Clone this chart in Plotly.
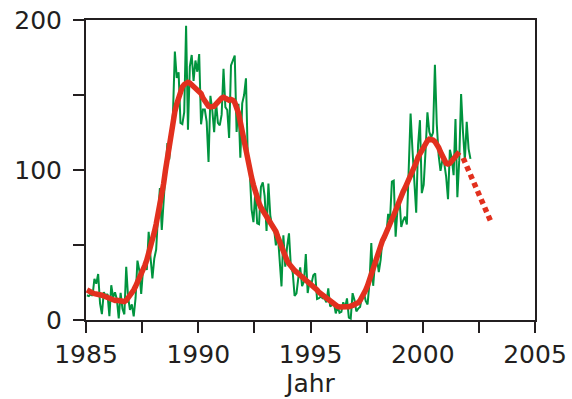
import plotly.graph_objects as go

# ---- data -------------------------------------------------------------
start_year = 1985  # first month: January 1985

# monthly sunspot numbers, Jan 1985 .. Feb 2002
ssn_monthly = [
    16.5, 15.9, 17.2, 16.2, 27.5, 24.2, 30.7, 11.1, 3.9, 18.6, 16.2, 17.3,      # 1985
    2.5, 23.2, 15.1, 18.5, 13.7, 1.1, 18.1, 7.4, 3.8, 35.4, 15.2, 6.8,          # 1986
    10.4, 2.4, 14.7, 39.6, 33.0, 17.4, 33.9, 38.8, 33.3, 58.8, 41.7, 27.8,      # 1987
    41.0, 47.0, 70.0, 88.0, 60.0, 82.0, 100.0, 118.0, 107.0, 125.0, 138.0, 179.0,  # 1988
    161.3, 165.1, 131.4, 130.6, 138.5, 196.2, 126.9, 168.9, 176.7, 159.4, 173.0, 165.5,  # 1989
    177.3, 130.5, 140.3, 140.3, 132.2, 105.4, 149.4, 140.0, 125.2, 145.5, 131.4, 129.7,  # 1990
    136.9, 167.5, 141.9, 140.0, 121.3, 169.7, 173.7, 176.3, 125.3, 144.1, 108.2, 144.4,  # 1991
    150.0, 161.1, 106.7, 99.8, 73.8, 65.2, 85.7, 64.5, 63.9, 88.7, 91.8, 82.6,  # 1992
    59.3, 91.0, 69.8, 62.2, 61.3, 49.8, 57.9, 42.2, 22.4, 56.4, 35.6, 48.9,     # 1993
    57.8, 35.5, 31.7, 16.1, 17.8, 28.0, 35.1, 22.5, 25.7, 44.0, 18.0, 26.2,     # 1994
    24.2, 29.9, 31.1, 14.0, 14.5, 15.6, 14.5, 14.3, 11.8, 21.1, 9.0, 10.0,      # 1995
    11.5, 4.4, 9.2, 4.8, 5.5, 11.8, 8.2, 14.4, 1.6, 0.9, 17.9, 13.3,            # 1996
    5.7, 7.6, 8.7, 15.5, 18.5, 12.7, 10.4, 24.4, 51.3, 22.8, 39.0, 41.2,        # 1997
    31.9, 40.3, 54.8, 53.4, 56.3, 70.7, 66.6, 92.2, 92.9, 55.5, 74.0, 81.9,     # 1998
    62.0, 66.3, 68.8, 63.7, 106.4, 137.7, 113.5, 93.7, 71.5, 116.7, 133.2, 84.6,  # 1999
    90.1, 112.9, 138.5, 125.5, 121.6, 124.9, 170.1, 130.5, 109.7, 99.4, 106.8, 104.4,  # 2000
    95.6, 80.6, 113.5, 107.7, 96.6, 134.0, 81.8, 106.4, 150.7, 125.5, 106.5, 132.2,  # 2001
    114.1, 107.4,                                                              # 2002
]

# smoothed sunspot numbers, Jan 1985 .. Aug 2001
ssn_smoothed = [
    20.0, 19.0, 18.5, 18.0, 17.6, 17.5, 17.5, 17.0, 16.5, 16.0, 15.5, 15.0,     # 1985
    14.5, 13.5, 13.0, 13.0, 13.2, 13.0, 12.5, 12.3, 12.3, 13.0, 14.5, 16.5,     # 1986
    18.0, 20.0, 22.5, 25.0, 27.5, 30.0, 33.0, 36.5, 40.0, 44.0, 48.5, 53.5,     # 1987
    58.5, 64.0, 70.0, 76.5, 83.5, 91.0, 100.0, 109.0, 118.0, 126.0, 133.0, 139.0,  # 1988
    144.0, 149.0, 153.0, 155.5, 157.0, 158.0, 158.5, 158.0, 157.0, 156.0, 155.0, 154.0,  # 1989
    153.0, 151.0, 148.0, 145.5, 143.5, 142.5, 142.0, 142.0, 142.5, 144.0, 145.5, 147.0,  # 1990
    148.0, 148.5, 147.5, 146.5, 146.5, 147.0, 146.5, 145.0, 142.0, 138.0, 132.0, 125.0,  # 1991
    119.0, 112.0, 104.0, 100.0, 95.0, 90.0, 85.0, 81.0, 78.0, 75.0, 73.0, 71.0,  # 1992
    69.0, 67.0, 65.5, 64.0, 62.0, 59.0, 55.5, 52.0, 48.5, 45.0, 42.0, 39.5,     # 1993
    37.5, 35.5, 34.0, 33.0, 32.0, 31.0, 30.0, 29.0, 28.0, 27.0, 26.0, 25.0,     # 1994
    24.0, 23.0, 21.5, 20.0, 18.5, 17.5, 16.5, 15.0, 14.0, 13.0, 12.0, 11.0,     # 1995
    10.0, 9.5, 9.0, 8.7, 8.5, 8.5, 8.7, 8.8, 8.8, 9.0, 9.5, 10.2,               # 1996
    11.0, 11.5, 13.0, 15.0, 17.5, 20.0, 23.0, 27.0, 31.0, 35.0, 39.0, 43.0,     # 1997
    47.0, 50.0, 53.0, 55.5, 58.0, 61.0, 64.0, 67.0, 70.0, 73.0, 76.5, 80.5,     # 1998
    83.0, 85.5, 88.0, 90.5, 93.0, 95.5, 98.0, 101.5, 105.0, 108.5, 111.0, 113.5,  # 1999
    115.5, 117.5, 119.5, 120.5, 120.5, 120.0, 119.0, 117.5, 115.0, 112.0, 109.0, 106.5,  # 2000
    104.5, 104.0, 104.5, 106.0, 107.5, 109.0, 110.5, 112.0,                     # 2001
]

# forecast of the smoothed number
forecast_years = [2001.8, 2003.05]
forecast_values = [108, 65]

x_tickvals = [1985, 1987.5, 1990, 1992.5, 1995, 1997.5, 2000, 2002.5, 2005]
x_ticktext = ["1985", "", "1990", "", "1995", "", "2000", "", "2005"]
y_tickvals = [0, 50, 100, 150, 200]
y_ticktext = ["0", "", "100", "", "200"]

# ---- figure -----------------------------------------------------------
def month_years(n):
    return [start_year + (i + 0.5) / 12 for i in range(n)]

GREEN = "rgb(0,148,62)"
RED = "rgb(226,48,30)"
INK = "#231f20"
FONT = "DejaVu Sans"

fig = go.Figure()
fig.add_trace(go.Scatter(x=month_years(len(ssn_monthly)), y=ssn_monthly,
                         mode="lines", line=dict(color=GREEN, width=2),
                         hoverinfo="skip"))
fig.add_trace(go.Scatter(x=month_years(len(ssn_smoothed)), y=ssn_smoothed,
                         mode="lines", line=dict(color=RED, width=5.5),
                         hoverinfo="skip"))
fig.add_trace(go.Scatter(x=forecast_years, y=forecast_values,
                         mode="lines", line=dict(color=RED, width=5.5, dash="5px,4px"),
                         hoverinfo="skip"))

axis_common = dict(showgrid=False, zeroline=False, showline=True, linewidth=2,
                   linecolor=INK, mirror=True, ticks="outside", ticklen=11,
                   tickwidth=2, tickcolor=INK, automargin=False,
                   tickfont=dict(family=FONT, size=25, color=INK))

fig.update_layout(
    width=572, height=399,
    margin=dict(l=86, r=37, t=20, b=79),
    paper_bgcolor="white", plot_bgcolor="white",
    showlegend=False,
    font=dict(family=FONT, size=25, color=INK),
    xaxis=dict(range=[1985, 2005], tickvals=x_tickvals, ticktext=x_ticktext,
               title=dict(text="Jahr", standoff=2,
                          font=dict(family=FONT, size=25, color=INK)),
               **axis_common),
    yaxis=dict(range=[0, 200], tickvals=y_tickvals, ticktext=y_ticktext,
               ticklabelstandoff=6, **axis_common),
)

fig.write_html("out.html")
